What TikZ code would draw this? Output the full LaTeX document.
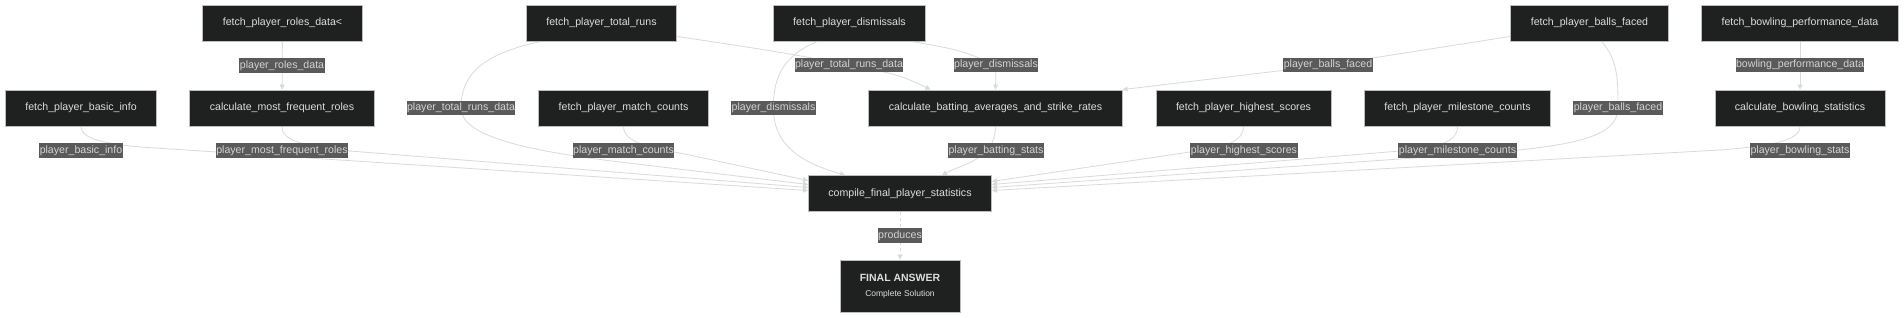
\documentclass[tikz,border=0pt]{standalone}
\usepackage{fontspec}
\setmainfont{Liberation Sans}
\usetikzlibrary{arrows.meta,backgrounds}
\definecolor{nodefill}{HTML}{1F2020}
\definecolor{nodeline}{HTML}{BDBDBD}
\definecolor{nodetext}{HTML}{DDDDDD}
\definecolor{lblfill}{HTML}{5A5A5A}
\definecolor{lbltext}{HTML}{D4D4D4}
\definecolor{edgegray}{HTML}{DADADA}

\begin{document}
\begin{tikzpicture}[x=1pt,y=-1pt,
  >={Triangle[length=5pt,width=5pt]},
  taskbox/.style={draw=nodeline,line width=0.8pt,fill=nodefill,text=nodetext,font=\fontsize{10.6}{12}\selectfont,inner xsep=20pt,minimum height=36pt},
  finalbox/.style={draw=nodeline,line width=0.8pt,fill=nodefill,text=nodetext,align=center,minimum width=120pt,minimum height=52pt},
  lbl/.style={fill=lblfill,text=lbltext,font=\fontsize{10.6}{12}\selectfont,inner xsep=0.5pt,inner ysep=2pt,text height=8pt,text depth=2.5pt},
  flow/.style={->,draw=edgegray,line width=0.8pt}
]
\useasboundingbox (0,0) rectangle (1904,318);

% TOP: fetch steps
\node[taskbox] (roles) at (282.5,23) {fetch\_player\_roles\_data<};
\node[taskbox] (truns) at (601.5,23) {fetch\_player\_total\_runs};
\node[taskbox] (dism) at (849.5,23) {fetch\_player\_dismissals};
\node[taskbox] (balls) at (1589.5,23) {fetch\_player\_balls\_faced};
\node[taskbox] (bperf) at (1800,23) {fetch\_bowling\_performance\_data};

% MIDDLE: fetch and calculate steps
\node[taskbox] (basic) at (81,108) {fetch\_player\_basic\_info};
\node[taskbox] (freq) at (282,108) {calculate\_most\_frequent\_roles};
\node[taskbox] (mcount) at (623.5,108) {fetch\_player\_match\_counts};
\node[taskbox] (bat) at (995.5,108) {calculate\_batting\_averages\_and\_strike\_rates};
\node[taskbox] (high) at (1243.5,108) {fetch\_player\_highest\_scores};
\node[taskbox] (mile) at (1457.5,108) {fetch\_player\_milestone\_counts};
\node[taskbox] (bowl) at (1800,108) {calculate\_bowling\_statistics};

% BOTTOM: compile and answer
\node[taskbox] (compile) at (900,193.5) {compile\_final\_player\_statistics};
\node[finalbox] (final) at (900,286) {{\fontsize{10.5}{12}\selectfont\bfseries FINAL ANSWER}\\[3pt]{\fontsize{8.5}{10}\selectfont Complete Solution}};

% edge labels
\node[lbl] (l-roles) at (282,65.5) {player\_roles\_data};
\node[lbl] (l-bperf) at (1800,65) {bowling\_performance\_data};
\node[lbl] (l-truns2) at (849,65) {player\_total\_runs\_data};
\node[lbl] (l-dism2) at (996,65) {player\_dismissals};
\node[lbl] (l-balls2) at (1328,65) {player\_balls\_faced};
\node[lbl] (l-truns) at (461,108) {player\_total\_runs\_data};
\node[lbl] (l-dism) at (773.5,108) {player\_dismissals};
\node[lbl] (l-balls) at (1618,108) {player\_balls\_faced};
\node[lbl] (l-basic) at (81,150.5) {player\_basic\_info};
\node[lbl] (l-freq) at (282,150.5) {player\_most\_frequent\_roles};
\node[lbl] (l-mcount) at (623.5,150.5) {player\_match\_counts};
\node[lbl] (l-bat) at (996,150.5) {player\_batting\_stats};
\node[lbl] (l-high) at (1244,150.5) {player\_highest\_scores};
\node[lbl] (l-mile) at (1457.5,150.5) {player\_milestone\_counts};
\node[lbl] (l-bowl) at (1800,150.5) {player\_bowling\_stats};
\node[lbl] (l-prod) at (900,235.5) {produces};

\begin{scope}[on background layer]
\fill[white] (0,0) rectangle (1904,318);
% straight feeds
\draw[flow] (roles) -- (freq);
\draw[flow] (bperf) -- (bowl);
\draw[flow,dashed] (compile) -- (final);
% into the batting step
\draw[flow] ([yshift=5pt]truns.south east) .. controls (780,52) .. (l-truns2.center) .. controls (900,75) .. ([xshift=-65pt]bat.north);
\draw[flow] ([xshift=62pt]dism.south) .. controls (960,50) .. (l-dism2.center) -- (bat.north);
\draw[flow] ([yshift=5pt]balls.south west) -- (l-balls2.center) -- (bat.north east);
% into compile, left side
\draw[flow] (basic.south) .. controls (81,138) and (100,143) .. (140,147) -- ([yshift=3pt]compile.west);
\draw[flow] (freq.south) .. controls (282,140) and (300,146) .. (350,151) -- ([yshift=6pt]compile.west);
\draw[flow] ([xshift=-60pt]truns.south) .. controls (475,55) and (461,80) .. (l-truns.center) .. controls (461,135) and (520,150) .. (620,162) -- ([yshift=9pt]compile.west);
\draw[flow] (mcount.south) .. controls (623.5,140) and (640,146) .. (680,153) -- ([yshift=13pt]compile.west);
% into compile, top
\draw[flow] ([xshift=-32pt]dism.south) .. controls (785,55) and (773,75) .. (l-dism.center) .. controls (773,150) and (810,165) .. ([xshift=-55pt]compile.north);
\draw[flow] (bat.south) .. controls (995.5,160) and (960,165) .. ([xshift=42pt]compile.north);
% into compile, right side
\draw[flow] (high.south) .. controls (1243.5,142) and (1225,147) .. (1190,152) -- ([yshift=12pt]compile.east);
\draw[flow] (mile.south) .. controls (1457.5,142) and (1440,147) .. (1400,151) -- ([yshift=9pt]compile.east);
\draw[flow] ([xshift=12pt]balls.south) .. controls (1618,60) and (1618,80) .. (l-balls.center) .. controls (1618,138) and (1570,145) .. (1500,152) -- ([yshift=6pt]compile.east);
\draw[flow] (bowl.south) .. controls (1800,141) and (1770,146) .. (1720,150) -- ([yshift=3pt]compile.east);
\end{scope}
\end{tikzpicture}
\end{document}
